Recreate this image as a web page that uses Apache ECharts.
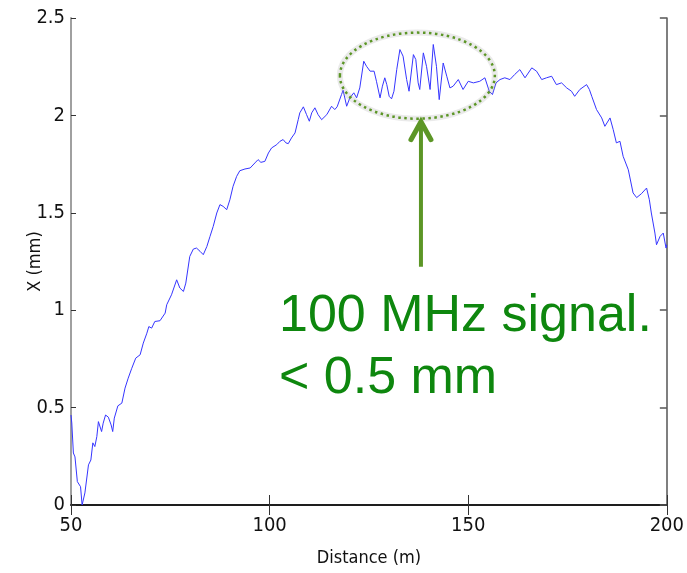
<!DOCTYPE html>
<html>
<head>
<meta charset="utf-8">
<script src="https://cdn.jsdelivr.net/npm/echarts@6/dist/echarts.min.js"></script>
<style>
html,body{margin:0;padding:0;background:#fff;}
#chart{width:687px;height:573px;}
</style>
</head>
<body>
<div id="chart"></div>
<script>
// Distance (m)
const distance = [
50.0,50.2,50.6,51.0,51.6,52.0,52.4,52.8,53.5,54.4,55.0,55.5,56.0,56.5,56.9,57.3,57.7,58.1,58.7,59.4,
60.1,60.5,60.9,61.8,62.8,63.6,64.4,65.3,66.3,67.4,68.2,69.1,69.6,70.3,71.1,72.4,73.7,74.1,75.3,76.6,
77.4,78.3,78.9,79.9,80.8,81.6,82.5,83.3,84.2,85.0,85.8,86.7,87.5,88.3,89.2,90.0,90.8,91.7,92.5,93.8,
95.1,96.3,97.1,97.8,98.8,99.7,100.5,101.8,102.6,103.4,104.1,104.7,105.5,106.4,107.2,107.6,108.5,109.3,110.0,110.6,
111.4,112.2,113.1,114.4,115.6,116.4,117.0,118.1,118.5,119.4,120.2,121.2,121.9,122.7,123.7,124.4,125.3,126.3,126.9,127.8,
128.4,129.0,129.5,130.1,130.7,131.3,132.0,132.8,133.6,134.5,135.1,136.2,136.8,137.4,137.8,138.7,139.5,140.4,141.2,142.0,
142.7,143.7,144.6,145.4,146.2,147.5,148.7,150.0,151.3,152.9,154.2,155.3,156.1,157.0,158.0,159.2,160.5,161.7,163.0,164.3,
166.0,167.2,168.5,169.7,171.0,172.2,173.5,174.8,176.0,176.8,178.1,179.8,180.5,181.1,182.3,183.6,184.4,185.7,186.5,187.3,
188.2,189.0,190.3,191.5,192.4,193.6,194.9,195.6,196.1,197.0,197.4,198.3,199.1,199.8,200.0
];
// X (mm)
const xmm = [
0.462,0.421,0.267,0.247,0.120,0.128,0.094,0.000,0.062,0.206,0.231,0.319,0.300,0.351,0.428,0.428,0.377,0.420,0.462,0.451,
0.411,0.377,0.446,0.509,0.523,0.600,0.651,0.702,0.754,0.771,0.831,0.882,0.916,0.908,0.942,0.946,0.985,1.028,1.079,1.156,
1.114,1.096,1.139,1.276,1.314,1.319,1.302,1.285,1.327,1.379,1.430,1.499,1.542,1.533,1.516,1.567,1.636,1.687,1.716,1.725,
1.730,1.756,1.773,1.759,1.764,1.807,1.833,1.850,1.867,1.876,1.859,1.855,1.884,1.910,1.978,2.013,2.044,2.004,1.970,2.013,
2.039,2.004,1.978,2.004,2.047,2.030,2.044,2.107,2.129,2.047,2.090,2.116,2.090,2.141,2.278,2.252,2.227,2.227,2.175,2.090,
2.150,2.193,2.158,2.098,2.085,2.124,2.235,2.338,2.304,2.184,2.124,2.312,2.287,2.167,2.133,2.321,2.252,2.133,2.364,2.252,
2.081,2.269,2.201,2.141,2.150,2.184,2.133,2.175,2.167,2.175,2.193,2.124,2.107,2.167,2.184,2.193,2.184,2.210,2.235,2.193,
2.244,2.227,2.184,2.193,2.201,2.158,2.167,2.141,2.124,2.098,2.133,2.158,2.133,2.098,2.030,1.987,1.944,1.987,1.927,1.859,
1.867,1.790,1.721,1.602,1.578,1.598,1.627,1.567,1.499,1.396,1.336,1.379,1.396,1.319,1.336
];
const xTicks = [50, 100, 150, 200];
const yTicks = [0, 0.5, 1, 1.5, 2, 2.5];
const annotationLines = ['100 MHz signal.', '< 0.5 mm'];
const axisTitles = { x: 'Distance (m)', y: 'X (mm)' };

const chart = echarts.init(document.getElementById('chart'), null, {renderer: 'canvas'});
const tickFont = '"Liberation Sans Narrow","Arial Narrow","DejaVu Sans Condensed","Liberation Sans",Arial,sans-serif';
const seriesData = distance.map((d, i) => [d, xmm[i]]);

chart.setOption({
  animation: false,
  backgroundColor: '#ffffff',
  grid: { left: 71, right: 20, top: 18, bottom: 68, containLabel: false },
  xAxis: [
    {
      type: 'value', min: xTicks[0], max: xTicks[xTicks.length - 1], interval: 50, position: 'bottom',
      name: axisTitles.x, nameLocation: 'middle', nameGap: 44, nameMoveOverlap: false,
      nameTextStyle: { fontFamily: tickFont, fontSize: 18, color: '#111' },
      axisLine: { show: true, lineStyle: { color: '#111', width: 1.5 } },
      axisTick: { show: true, inside: true, length: 10, lineStyle: { color: '#333', width: 1 } },
      axisLabel: { fontFamily: tickFont, fontSize: 20, color: '#111', margin: 11 },
      splitLine: { show: false }
    },
    {
      type: 'value', min: xTicks[0], max: xTicks[xTicks.length - 1], interval: 50, position: 'top',
      axisLine: { show: true, lineStyle: { color: '#111', width: 1.5 } },
      axisTick: { show: true, inside: true, length: 10, lineStyle: { color: '#333', width: 1 } },
      axisLabel: { show: false },
      splitLine: { show: false }
    }
  ],
  yAxis: [
    {
      type: 'value', min: 0, max: 2.5, interval: 0.5, position: 'left',
      name: axisTitles.y, nameLocation: 'middle', nameGap: 27, nameRotate: 90, nameMoveOverlap: false,
      nameTextStyle: { fontFamily: tickFont, fontSize: 18, color: '#111' },
      axisLine: { show: true, lineStyle: { color: '#a0a0a0', width: 2 } },
      axisTick: { show: true, inside: true, length: 5, lineStyle: { color: '#333', width: 1 } },
      axisLabel: { fontFamily: tickFont, fontSize: 20, color: '#111', margin: 6 },
      splitLine: { show: false }
    },
    {
      type: 'value', min: 0, max: 2.5, interval: 0.5, position: 'right',
      axisLine: { show: true, lineStyle: { color: '#555', width: 1.5 } },
      axisTick: { show: true, inside: true, length: 7, lineStyle: { color: '#555', width: 1.5 } },
      axisLabel: { show: false },
      splitLine: { show: false }
    }
  ],
  series: [{
    type: 'line', data: seriesData, xAxisIndex: 0, yAxisIndex: 0,
    showSymbol: false, smooth: false,
    lineStyle: { color: '#3535ff', width: 1 }
  }]
});

// Annotation placed in data coordinates
const c = chart.convertToPixel({xAxisIndex: 0, yAxisIndex: 0}, [137.2, 2.204]);
const e = chart.convertToPixel({xAxisIndex: 0, yAxisIndex: 0}, [137.2 + 19.5, 2.204 - 0.221]);
const aBase = chart.convertToPixel({xAxisIndex: 0, yAxisIndex: 0}, [138.1, 1.223]);
const aTip = chart.convertToPixel({xAxisIndex: 0, yAxisIndex: 0}, [138.1, 1.978]);
const rx = e[0] - c[0], ry = e[1] - c[1];
const green = '#5c9626';
chart.setOption({
  graphic: [
    { type: 'ellipse', shape: { cx: c[0], cy: c[1], rx: rx, ry: ry },
      style: { fill: 'none', stroke: 'rgba(160,160,160,0.22)', lineWidth: 6 }, z: 9 },
    { type: 'ellipse', shape: { cx: c[0], cy: c[1], rx: rx, ry: ry },
      style: { fill: 'none', stroke: green, lineWidth: 2.5, lineDash: [2.5, 3.5] }, z: 10 },
    { type: 'line', shape: { x1: aBase[0], y1: aBase[1], x2: aTip[0], y2: aTip[1] + 3 },
      style: { stroke: green, lineWidth: 4 }, z: 10 },
    { type: 'polyline', shape: { points: [[aTip[0] - 10, aTip[1] + 20], [aTip[0], aTip[1] + 2], [aTip[0] + 10, aTip[1] + 20]] },
      style: { stroke: green, lineWidth: 5, fill: 'none', lineCap: 'round', lineJoin: 'miter' }, z: 10 },
    { type: 'text', left: 279, top: 291,
      style: { text: annotationLines[0], fill: '#0e870e', font: '52px "Liberation Sans", Arial, sans-serif' }, z: 10 },
    { type: 'text', left: 279, top: 353,
      style: { text: annotationLines[1], fill: '#0e870e', font: '52px "Liberation Sans", Arial, sans-serif' }, z: 10 }
  ]
});
</script>
</body>
</html>
